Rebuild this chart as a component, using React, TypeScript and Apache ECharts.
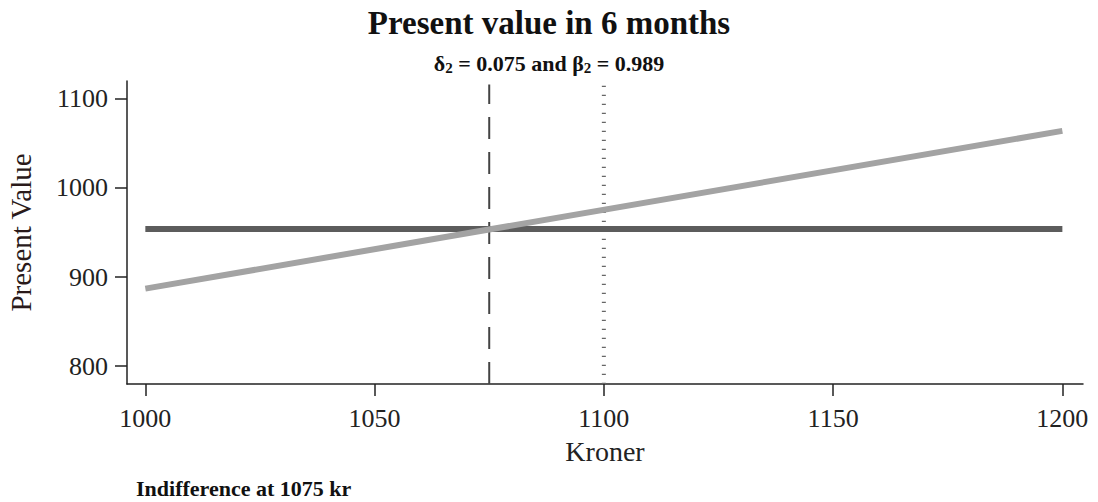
import React, { useEffect, useRef } from "react";
import * as echarts from "echarts";

const kroner = [1000, 1200];
const presentValueNow = [954, 954];
const presentValueLater = [887, 1064];
const indifferencePoint = 1075;
const referencePoint = 1100;
const yExtent = [780, 1120];
const xExtent = [996, 1204.5];
const xTicks = [1000, 1050, 1100, 1150, 1200];
const yTicks = [800, 900, 1000, 1100];

const FONT = "'Liberation Serif', 'DejaVu Serif', serif";

export default function App() {
  const ref = useRef<HTMLDivElement>(null);
  useEffect(() => {
    if (!ref.current) return;
    const chart = echarts.init(ref.current, null, { renderer: "svg" });
    const axisLine = { lineStyle: { color: "#222", width: 1.5 } };
    chart.setOption({
      animation: false,
      backgroundColor: "#ffffff",
      textStyle: { fontFamily: FONT },
      title: [
        {
          text: "Present value in 6 months",
          left: "center",
          top: 1,
          textStyle: { fontFamily: FONT, fontSize: 33, fontWeight: "bold", color: "#111" },
        },
        {
          text: "δ{s|2} = 0.075 and β{s|2} = 0.989",
          left: "center",
          top: 47,
          textStyle: {
            fontFamily: FONT,
            fontSize: 22,
            fontWeight: "bold",
            color: "#111",
            rich: {
              s: { fontFamily: FONT, fontSize: 15, fontWeight: "bold", color: "#111", verticalAlign: "bottom", padding: [8, 0, 0, 0] },
            },
          },
        },
        {
          text: "Indifference at 1075 kr",
          left: 131,
          top: 472,
          textStyle: { fontFamily: FONT, fontSize: 22, fontWeight: "bold", color: "#111" },
        },
      ],
      grid: { left: 127, right: 15, top: 81, bottom: 118, containLabel: false, outerBoundsMode: "none" },
      xAxis: {
        type: "value",
        min: xExtent[0],
        max: xExtent[1],
        name: "Kroner",
        nameLocation: "middle",
        nameGap: 53,
        nameTextStyle: { fontFamily: FONT, fontSize: 28, color: "#222" },
        axisLine,
        axisTick: { show: true, length: 12, lineStyle: { color: "#222", width: 1.5 }, customValues: xTicks },
        axisLabel: {
          fontFamily: FONT,
          fontSize: 26,
          color: "#222",
          margin: 21,
          customValues: xTicks,
          formatter: (v: number) => String(v),
        },
        splitLine: { show: false },
      },
      yAxis: {
        type: "value",
        min: yExtent[0],
        max: yExtent[1],
        name: "Present Value",
        nameLocation: "middle",
        nameGap: 92,
        nameRotate: 90,
        nameTextStyle: { fontFamily: FONT, fontSize: 29, color: "#2a1a1a" },
        axisLine: { show: true, ...axisLine },
        axisTick: { show: true, length: 12, lineStyle: { color: "#222", width: 1.5 }, customValues: yTicks },
        axisLabel: {
          fontFamily: FONT,
          fontSize: 26,
          color: "#222",
          margin: 19,
          customValues: yTicks,
          formatter: (v: number) => String(v),
        },
        splitLine: { show: false },
      },
      series: [
        {
          type: "line",
          data: [
            [indifferencePoint, yExtent[0]],
            [indifferencePoint, 1116],
          ],
          symbol: "none",
          lineStyle: { color: "#444", width: 2, type: [22, 13] },
          z: 1,
        },
        {
          type: "line",
          data: [
            [referencePoint, yExtent[0]],
            [referencePoint, 1120],
          ],
          symbol: "none",
          lineStyle: { color: "#666", width: 4, type: [1.2, 7.8] },
          z: 1,
        },
        {
          type: "line",
          data: kroner.map((k, i) => [k, presentValueNow[i]]),
          symbol: "none",
          lineStyle: { color: "#5c5c5c", width: 6, cap: "butt" },
          z: 2,
        },
        {
          type: "line",
          data: kroner.map((k, i) => [k, presentValueLater[i]]),
          symbol: "none",
          lineStyle: { color: "#a3a3a3", width: 6, cap: "butt" },
          z: 3,
        },
      ],
    });
    return () => chart.dispose();
  }, []);
  return (
    <div
      ref={ref}
      style={{ position: "fixed", left: 0, top: 0, width: 1098, height: 502, background: "#fff" }}
    />
  );
}
